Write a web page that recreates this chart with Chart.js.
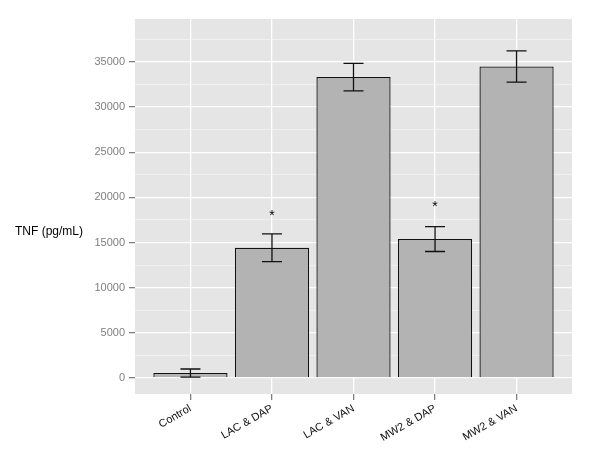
<!DOCTYPE html>
<html>
<head>
<meta charset="utf-8">
<script src="https://cdn.jsdelivr.net/npm/chart.js@4/dist/chart.umd.min.js"></script>
<style>
  body { margin: 0; background: #fff; }
  canvas { display: block; }
</style>
</head>
<body>
<canvas id="chart" width="600" height="473"></canvas>
<script>
// TNF bar chart, ggplot-like look

const labels = ['Control', 'LAC & DAP', 'LAC & VAN', 'MW2 & DAP', 'MW2 & VAN'];
const means = [550, 14430, 33330, 15390, 34500];
const errors = [450, 1530, 1520, 1380, 1730];
const starY = [null, 18400, null, 19400, null];   // where the "*" marks sit
const yMajor = [0, 5000, 10000, 15000, 20000, 25000, 30000, 35000];
const yMinor = [2500, 7500, 12500, 17500, 22500, 27500, 32500, 37500];

const FONT = "'Liberation Sans', Arial, sans-serif";

const panelBg = {
  id: 'panelBg',
  beforeDraw(chart){
    const { ctx, chartArea: a } = chart;
    ctx.save();
    ctx.fillStyle = '#e5e5e5';
    ctx.fillRect(a.left, a.top, a.right - a.left, a.bottom - a.top);
    ctx.restore();
  }
};

const errorBars = {
  id: 'errorBars',
  afterDatasetsDraw(chart){
    const { ctx } = chart;
    const x = chart.scales.x, y = chart.scales.y;
    ctx.save();
    ctx.strokeStyle = '#111';
    ctx.lineWidth = 1.3;
    means.forEach((m, i) => {
      const cx = x.getPixelForValue(i);
      const top = y.getPixelForValue(m + errors[i]);
      const bot = y.getPixelForValue(m - errors[i]);
      ctx.beginPath();
      ctx.moveTo(cx, top); ctx.lineTo(cx, bot);
      ctx.moveTo(cx - 10, top); ctx.lineTo(cx + 10, top);
      ctx.moveTo(cx - 10, bot); ctx.lineTo(cx + 10, bot);
      ctx.stroke();
    });
    // significance stars
    ctx.fillStyle = '#000';
    ctx.font = '14px ' + FONT;
    ctx.textAlign = 'center';
    ctx.textBaseline = 'alphabetic';
    starY.forEach((v, i) => {
      if (v == null) return;
      ctx.fillText('*', x.getPixelForValue(i), y.getPixelForValue(v) + 8);
    });
    // horizontal y title
    ctx.font = '12px ' + FONT;
    ctx.textAlign = 'left';
    ctx.textBaseline = 'middle';
    ctx.fillText('TNF (pg/mL)', 15, 232);
    ctx.restore();
  }
};

new Chart(document.getElementById('chart'), {
  type: 'bar',
  data: {
    datasets: [{
      data: labels.map((l, i) => ({ x: i, y: means[i] })),
      backgroundColor: '#b3b3b3',
      borderColor: '#111',
      borderWidth: 1.3,
      categoryPercentage: 1,
      barPercentage: 0.91
    }]
  },
  options: {
    responsive: false,
    animation: false,
    layout: { padding: { top: 19, right: 28, left: 0, bottom: 0 } },
    plugins: { legend: { display: false }, tooltip: { enabled: false } },
    scales: {
      x: {
        type: 'linear',
        min: -0.68,
        max: 4.68,
        offset: false,
        afterBuildTicks: s => { s.ticks = labels.map((l, i) => ({ value: i })); },
        afterFit: s => { s.height = 79; },
        border: { display: false },
        grid: { offset: false, color: '#ffffff', lineWidth: 1.3, tickColor: '#7f7f7f', tickLength: 6 },
        ticks: {
          autoSkip: false,
          maxRotation: 30,
          minRotation: 30,
          padding: 2,
          color: '#111',
          font: { family: FONT, size: 11 },
          callback: v => labels[v]
        }
      },
      y: {
        min: -1770,
        max: 39760,
        afterBuildTicks: s => {
          s.ticks = yMajor.concat(yMinor).sort((a, b) => a - b).map(v => ({ value: v }));
        },
        afterFit: s => { s.width = 135; },
        border: { display: false },
        grid: {
          color: c => (c.tick && c.tick.value % 5000 === 0) ? '#ffffff' : '#f2f2f2',
          lineWidth: c => (c.tick && c.tick.value % 5000 === 0) ? 1.3 : 0.8,
          tickColor: c => (c.tick && c.tick.value % 5000 === 0) ? '#7f7f7f' : 'rgba(0,0,0,0)',
          tickLength: 6
        },
        ticks: {
          autoSkip: false,
          padding: 4,
          color: '#7f7f7f',
          font: { family: FONT, size: 11 },
          callback: v => yMajor.includes(v) ? String(v) : ''
        }
      }
    }
  },
  plugins: [panelBg, errorBars]
});
</script>
</body>
</html>
